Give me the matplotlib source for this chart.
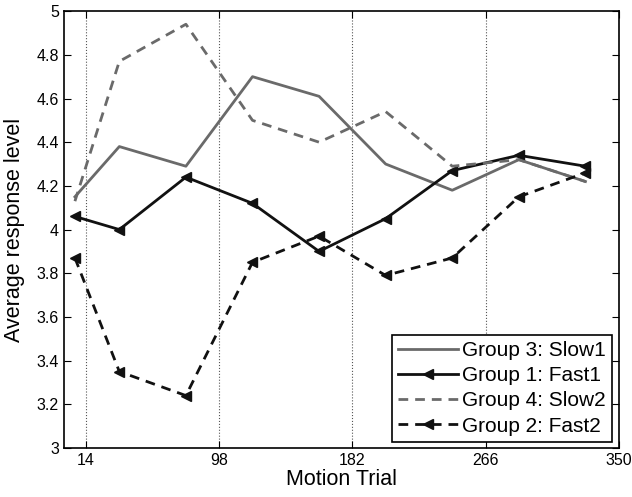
import numpy as np
import matplotlib
matplotlib.use("Agg")
import matplotlib.pyplot as plt

plt.rcParams['font.family'] = ['Liberation Sans', 'DejaVu Sans']

# trial bin centres
trials = [7, 35, 77, 119, 161, 203, 245, 287, 329]

slow1 = [4.15, 4.38, 4.29, 4.70, 4.61, 4.30, 4.18, 4.32, 4.22]
fast1 = [4.06, 4.00, 4.24, 4.12, 3.90, 4.05, 4.27, 4.34, 4.29]
slow2 = [4.13, 4.77, 4.94, 4.50, 4.40, 4.54, 4.29, 4.32, 4.22]
fast2 = [3.87, 3.35, 3.24, 3.85, 3.97, 3.79, 3.87, 4.15, 4.26]

xticks = [14, 98, 182, 266, 350]
yticks = [3, 3.2, 3.4, 3.6, 3.8, 4, 4.2, 4.4, 4.6, 4.8, 5]
ytick_labels = ['3', '3.2', '3.4', '3.6', '3.8', '4', '4.2', '4.4', '4.6', '4.8', '5']

grey = '#6a6a6a'
black = '#111111'

fig = plt.figure(figsize=(6.32, 4.97), dpi=100)
ax = fig.add_axes([0.101, 0.0986, 0.878, 0.879])

ax.plot(trials, slow1, color=grey, lw=2.0, ls='-', label='Group 3: Slow1')
ax.plot(trials, fast1, color=black, lw=2.0, ls='-', marker='<', ms=7,
        label='Group 1: Fast1')
ax.plot(trials, slow2, color=grey, lw=2.0, ls=(0, (3.5, 2.5)), label='Group 4: Slow2')
ax.plot(trials, fast2, color=black, lw=2.0, ls=(0, (3.5, 2.5)), marker='<', ms=7,
        label='Group 2: Fast2')

ax.set_xlim(0, 350)
ax.set_ylim(3, 5)
ax.set_xticks(xticks)
ax.set_yticks(yticks)
ax.set_yticklabels(ytick_labels)
ax.tick_params(direction='in', top=True, right=True, labelsize=11.5, length=5, width=0.8)
ax.xaxis.grid(True, ls=':', color='#555555', lw=0.8)
for s in ax.spines.values():
    s.set_linewidth(1.2)

ax.set_xlabel('Motion Trial', fontsize=15.5, labelpad=1)
ax.set_ylabel('Average response level', fontsize=15.5, labelpad=8)

leg = ax.legend(loc='lower right', bbox_to_anchor=(0.987, 0.014), fontsize=15,
                frameon=True, fancybox=False, edgecolor='black', framealpha=1,
                handlelength=2.9, handletextpad=0.15, labelspacing=0.3,
                borderpad=0.3, borderaxespad=0)
leg.get_frame().set_linewidth(1.2)

fig.savefig('out.png', dpi=100)
